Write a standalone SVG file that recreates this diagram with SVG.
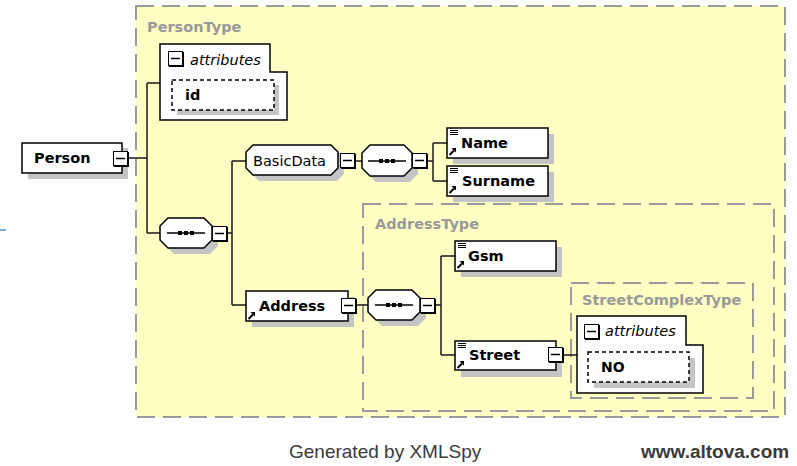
<svg xmlns="http://www.w3.org/2000/svg" xmlns:xlink="http://www.w3.org/1999/xlink" width="797" height="466" viewBox="0 0 797 466">
<style>
.type{fill:#FFFFC4;stroke:#9a9a9a;stroke-width:2;stroke-dasharray:18 8}
.tlabel{font-family:"DejaVu Sans",sans-serif;font-size:14.5px;font-weight:bold;fill:#999}
.lbl{font-family:"DejaVu Sans",sans-serif;font-size:14.5px;fill:#000}
.b{font-weight:bold}
.it{font-style:italic}
.box{fill:#fff;stroke:#000;stroke-width:1.5}
.shadow{fill:#c4c4c4}
.dash{fill:#fff;stroke:#000;stroke-width:1.5;stroke-dasharray:4 3}
.conn{stroke:#1a1a1a;stroke-width:1.5;fill:none}
.foot{font-family:"Liberation Sans",Arial,sans-serif;font-size:19px;fill:#3a3a3a}
</style>
<defs>
<g id="minus">
<rect x="0.5" y="0.5" width="14" height="14" fill="#fff" stroke="#000" stroke-width="1"/>
<path d="M15,1 V15 H1" fill="none" stroke="#000" stroke-width="2"/>
<line x1="3" y1="7.5" x2="12" y2="7.5" stroke="#000" stroke-width="1.5"/>
</g>
<g id="lines">
<path d="M0,0.5 H8 M0,2.5 H8 M0,4.5 H8" stroke="#000" stroke-width="1"/>
</g>
<g id="arrow">
<path d="M0.5,7 L5,2.5" stroke="#000" stroke-width="2"/>
<polygon points="2.5,0 7,0 7,4.5" fill="#000"/>
</g>
<g id="seqdots">
<line x1="-19" y1="0" x2="19" y2="0" stroke="#000" stroke-width="1.5"/>
<rect x="-8" y="-2" width="4" height="4" fill="#000"/>
<rect x="-2" y="-2" width="4" height="4" fill="#000"/>
<rect x="4" y="-2" width="4" height="4" fill="#000"/>
</g>
</defs>

<line x1="0" y1="230" x2="6" y2="230" stroke="#7aaee0" stroke-width="2"/>

<g id="PersonType">
<rect class="type" x="136" y="6" width="649" height="411"/>
<text class="tlabel" x="147" y="32">PersonType</text>
</g>
<g id="AddressType">
<rect class="type" x="363" y="204" width="411" height="207"/>
<text class="tlabel" x="375" y="229">AddressType</text>
</g>
<g id="StreetComplexType">
<rect class="type" x="571" y="283" width="182" height="115"/>
<text class="tlabel" x="582" y="305">StreetComplexType</text>
</g>

<g id="connectors">
<path class="conn" d="M129,158 H147 M147,83 V233 M147,83 H160 M147,233 H160"/>
<path class="conn" d="M227,233 H232 M232,161 V305 M232,161 H246 M232,305 H246"/>
<path class="conn" d="M355,161 H362 M427,161 H433 M433,143 V181 M433,143 H447 M433,181 H447"/>
<path class="conn" d="M357,305 H368 M436,305 H441 M441,256 V355 M441,256 H455 M441,355 H455"/>
<path class="conn" d="M564,355 H577"/>
</g>

<g id="Person">
<rect class="shadow" x="28" y="148" width="100" height="31"/>
<rect class="box" x="22" y="143" width="100" height="30"/>
<text class="lbl b" x="34" y="163">Person</text>
<use xlink:href="#minus" x="113" y="151"/>
</g>

<g id="attributes1">
<path class="box" d="M160,44 H270 V72 H287 V120 H160 Z"/>
<use xlink:href="#minus" x="168" y="51"/>
<text class="lbl it" x="190" y="65">attributes</text>
<g id="id">
<rect class="shadow" x="177" y="85" width="102" height="30"/>
<rect class="dash" x="172" y="80" width="102" height="30"/>
<text class="lbl b" x="185" y="100">id</text>
</g>
</g>

<g id="sequence1">
<polygon class="shadow" points="174,224 210,224 218,232 218,246 210,254 174,254 166,246 166,232"/>
<polygon class="box" points="168,218 204,218 212,226 212,240 204,248 168,248 160,240 160,226"/>
<use xlink:href="#seqdots" x="186" y="233"/>
<use xlink:href="#minus" x="212" y="226"/>
</g>

<g id="BasicData">
<polygon class="shadow" points="259,151 337,151 344,158 344,174 337,181 259,181 252,174 252,158"/>
<polygon class="box" points="253,145 331,145 338,152 338,168 331,175 253,175 246,168 246,152"/>
<text class="lbl" x="253" y="166">BasicData</text>
<use xlink:href="#minus" x="340" y="153"/>
</g>

<g id="sequence2">
<polygon class="shadow" points="376,151 410,151 418,159 418,174 410,182 376,182 368,174 368,159"/>
<polygon class="box" points="370,145 404,145 412,153 412,168 404,176 370,176 362,168 362,153"/>
<use xlink:href="#seqdots" x="387" y="161"/>
<use xlink:href="#minus" x="412" y="153"/>
</g>

<g id="Name">
<rect class="shadow" x="453" y="134" width="101" height="30"/>
<rect class="box" x="447" y="128" width="101" height="30"/>
<use xlink:href="#lines" x="450" y="130"/>
<use xlink:href="#arrow" x="449" y="148"/>
<text class="lbl b" x="461" y="148">Name</text>
</g>

<g id="Surname">
<rect class="shadow" x="453" y="172" width="101" height="30"/>
<rect class="box" x="447" y="166" width="101" height="30"/>
<use xlink:href="#lines" x="450" y="168"/>
<use xlink:href="#arrow" x="449" y="186"/>
<text class="lbl b" x="462" y="186">Surname</text>
</g>

<g id="Address">
<rect class="shadow" x="252" y="297" width="102" height="30"/>
<rect class="box" x="246" y="291" width="102" height="30"/>
<use xlink:href="#arrow" x="248" y="312"/>
<text class="lbl b" x="259" y="311">Address</text>
<use xlink:href="#minus" x="341" y="298"/>
</g>

<g id="sequence3">
<polygon class="shadow" points="382,296 418,296 426,304 426,318 418,326 382,326 374,318 374,304"/>
<polygon class="box" points="376,290 412,290 420,298 420,312 412,320 376,320 368,312 368,298"/>
<use xlink:href="#seqdots" x="394" y="305"/>
<use xlink:href="#minus" x="420" y="298"/>
</g>

<g id="Gsm">
<rect class="shadow" x="461" y="247" width="101" height="30"/>
<rect class="box" x="455" y="241" width="101" height="30"/>
<use xlink:href="#lines" x="458" y="243"/>
<use xlink:href="#arrow" x="457" y="261"/>
<text class="lbl b" x="468" y="261">Gsm</text>
</g>

<g id="Street">
<rect class="shadow" x="461" y="347" width="101" height="30"/>
<rect class="box" x="455" y="341" width="101" height="29"/>
<use xlink:href="#lines" x="458" y="343"/>
<use xlink:href="#arrow" x="457" y="361"/>
<text class="lbl b" x="469" y="360">Street</text>
<use xlink:href="#minus" x="548" y="347"/>
</g>

<g id="attributes2">
<path class="box" d="M577,316 H686 V345 H703 V393 H577 Z"/>
<use xlink:href="#minus" x="584" y="324"/>
<text class="lbl it" x="605" y="336">attributes</text>
<g id="NO">
<rect class="shadow" x="594" y="358" width="101" height="30"/>
<rect class="dash" x="588" y="352" width="101" height="30"/>
<text class="lbl b" x="601" y="372" style="font-size:14px">NO</text>
</g>
</g>

<text class="foot" x="289" y="458">Generated by XMLSpy</text>
<text class="foot b" x="641" y="458">www.altova.com</text>
</svg>
